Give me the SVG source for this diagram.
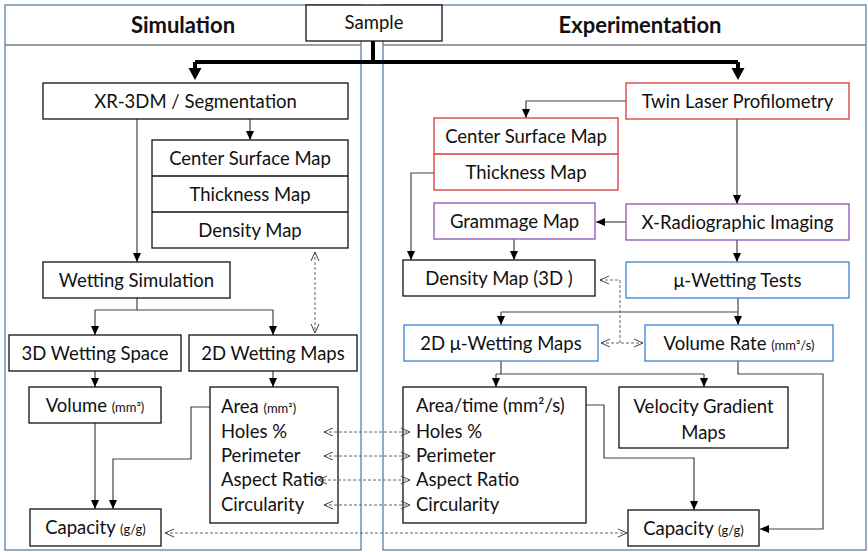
<svg xmlns="http://www.w3.org/2000/svg" width="868" height="552" viewBox="0 0 868 552">
<defs>
<style>
text{font-family:Lato,"Open Sans","Liberation Sans",sans-serif;font-size:18.5px;fill:#111;}
.c{text-anchor:middle;}
.h{font-weight:bold;font-size:22px;}
.s{font-size:13px;}
.box{fill:#fff;stroke:#111;stroke-width:1.3;}
.red{fill:#fff;stroke:#d9393b;stroke-width:1.3;}
.pur{fill:#fff;stroke:#8855bb;stroke-width:1.3;}
.blu{fill:#fff;stroke:#3a84d0;stroke-width:1.3;}
.panel{fill:#fff;stroke:#5b7fae;stroke-width:1.3;}
.hl{stroke:#7a7f86;stroke-width:1.3;fill:none;}
.ln{fill:none;stroke:#444;stroke-width:1.2;}
.ar{fill:none;stroke:#444;stroke-width:1.2;marker-end:url(#a);}
.th{fill:none;stroke:#000;stroke-width:4;}
.tha{fill:none;stroke:#000;stroke-width:4;marker-end:url(#ta);}
.ds{fill:none;stroke:#666;stroke-width:1;stroke-dasharray:3,2;marker-start:url(#o);marker-end:url(#o);}
.dse{fill:none;stroke:#666;stroke-width:1;stroke-dasharray:3,2;marker-end:url(#o);}
</style>
<marker id="a" markerWidth="10" markerHeight="10" refX="9" refY="5" orient="auto" markerUnits="userSpaceOnUse">
<path d="M0,1 L9,5 L0,9 Z" fill="#000"/>
</marker>
<marker id="ta" markerWidth="14" markerHeight="14" refX="3" refY="7" orient="auto" markerUnits="userSpaceOnUse">
<path d="M0,0.5 L12,7 L0,13.5 Z" fill="#000"/>
</marker>
<marker id="o" markerWidth="10" markerHeight="10" refX="9" refY="5" orient="auto-start-reverse" markerUnits="userSpaceOnUse">
<path d="M0,1 L9,5 L0,9" fill="none" stroke="#444" stroke-width="1"/>
</marker>
</defs>
<rect width="868" height="552" fill="#fff"/>
<g id="panels">
<rect class="panel" x="5" y="5" width="356" height="545"/>
<rect class="panel" x="383" y="5" width="483" height="545"/>
<line class="hl" x1="5" y1="45" x2="361" y2="45"/>
<line class="hl" x1="383" y1="45" x2="866" y2="45"/>
<text class="c h" x="183" y="33">Simulation</text>
<text class="c h" x="640" y="33">Experimentation</text>
</g>
<g id="connectors">
<path class="th" d="M373,41 V62"/>
<path class="th" d="M195,62 H738"/>
<path class="tha" d="M195,62 V71"/>
<path class="tha" d="M738,62 V71"/>
<path class="ar" d="M137,119 V262"/>
<path class="ar" d="M250,119 V140"/>
<path class="ln" d="M137,298 V310 M95,310 H273"/>
<path class="ar" d="M95,310 V335"/>
<path class="ar" d="M273,310 V335"/>
<path class="ar" d="M95,371 V387"/>
<path class="ar" d="M273,371 V387"/>
<path class="ar" d="M95,423 V509"/>
<path class="ar" d="M218,407 H191 V459 H113 V509"/>
<path class="ar" d="M626,101 H526 V118"/>
<path class="ar" d="M737,119 V204"/>
<path class="ar" d="M626,222 H596"/>
<path class="ar" d="M737,240 V262"/>
<path class="ar" d="M514,239 V260"/>
<path class="ar" d="M434,173 H411 V260"/>
<path class="ln" d="M738,298 V312 M501,312 H738"/>
<path class="ar" d="M501,312 V325"/>
<path class="ar" d="M738,312 V325"/>
<path class="ln" d="M501,361 V374 M496,374 H704"/>
<path class="ar" d="M496,374 V387"/>
<path class="ar" d="M704,374 V387"/>
<path class="ar" d="M738,361 V374 H823 V529 H760"/>
<path class="ar" d="M574,405 H604 V458 H694 V510"/>
</g>
<g id="sample">
<rect class="box" x="306" y="5" width="136" height="36"/>
<text class="c" x="374" y="29">Sample</text>
</g>
<g id="xr3dm">
<rect class="box" x="43" y="83" width="305" height="36"/>
<text class="c" x="195.5" y="107.5">XR-3DM / Segmentation</text>
</g>
<g id="sim-maps">
<rect class="box" x="152" y="140" width="196" height="108"/>
<line class="box" x1="152" y1="176" x2="348" y2="176"/>
<line class="box" x1="152" y1="212" x2="348" y2="212"/>
<text class="c" x="250" y="164.5">Center Surface Map</text>
<text class="c" x="250" y="200.5">Thickness Map</text>
<text class="c" x="250" y="236.5">Density Map</text>
</g>
<g id="wetting-sim">
<rect class="box" x="43" y="262" width="187" height="36"/>
<text class="c" x="136.5" y="286.5">Wetting Simulation</text>
</g>
<g id="wet-space">
<rect class="box" x="9" y="335" width="172" height="36"/>
<text class="c" x="95" y="359.5">3D Wetting Space</text>
</g>
<g id="wet-maps">
<rect class="box" x="189" y="335" width="168" height="36"/>
<text class="c" x="273" y="359.5">2D Wetting Maps</text>
</g>
<g id="volume">
<rect class="box" x="29" y="387" width="132" height="36"/>
<text class="c" x="95" y="411.5">Volume <tspan class="s">(mm³)</tspan></text>
</g>
<g id="sim-metrics">
<rect class="box" x="210" y="387" width="128" height="136"/>
<text x="221" y="413">Area <tspan class="s">(mm²)</tspan></text>
<text x="221" y="438">Holes %</text>
<text x="221" y="462">Perimeter</text>
<text x="221" y="486">Aspect Ratio</text>
<text x="221" y="511">Circularity</text>
</g>
<g id="capacity-sim">
<rect class="box" x="30" y="509" width="131" height="37"/>
<text class="c" x="95.5" y="534">Capacity <tspan class="s">(g/g)</tspan></text>
</g>
<g id="twin-laser">
<rect class="red" x="626" y="83" width="223" height="36"/>
<text class="c" x="737.5" y="107.5">Twin Laser Profilometry</text>
</g>
<g id="exp-maps">
<rect class="red" x="434" y="118" width="184" height="72"/>
<line class="red" x1="434" y1="154" x2="618" y2="154"/>
<text class="c" x="526" y="142.5">Center Surface Map</text>
<text class="c" x="526" y="178.5">Thickness Map</text>
</g>
<g id="grammage">
<rect class="pur" x="434" y="203" width="161" height="36"/>
<text class="c" x="514.5" y="227.5">Grammage Map</text>
</g>
<g id="xri">
<rect class="pur" x="626" y="204" width="223" height="36"/>
<text class="c" x="737.5" y="228.5">X-Radiographic Imaging</text>
</g>
<g id="density3d">
<rect class="box" x="403" y="260" width="192" height="36"/>
<text class="c" x="499" y="284.5">Density Map (3D )</text>
</g>
<g id="mu-tests">
<rect class="blu" x="626" y="262" width="223" height="36"/>
<text class="c" x="737.5" y="286.5">μ-Wetting Tests</text>
</g>
<g id="mu-maps">
<rect class="blu" x="404" y="325" width="194" height="36"/>
<text class="c" x="501" y="349.5">2D μ-Wetting Maps</text>
</g>
<g id="volume-rate">
<rect class="blu" x="645" y="325" width="188" height="36"/>
<text class="c" x="739" y="349.5">Volume Rate <tspan class="s">(mm³/s)</tspan></text>
</g>
<g id="exp-metrics">
<rect class="box" x="403" y="387" width="183" height="136"/>
<text x="416" y="411.5">Area/time (mm²/s)</text>
<text x="416" y="438">Holes %</text>
<text x="416" y="462">Perimeter</text>
<text x="416" y="486">Aspect Ratio</text>
<text x="416" y="511">Circularity</text>
</g>
<g id="velocity">
<rect class="box" x="619" y="387" width="169" height="61"/>
<text class="c" x="703.5" y="413">Velocity Gradient</text>
<text class="c" x="703.5" y="438.5">Maps</text>
</g>
<g id="capacity-exp">
<rect class="box" x="628" y="510" width="131" height="36"/>
<text class="c" x="693.5" y="534.5">Capacity <tspan class="s">(g/g)</tspan></text>
</g>
<g id="dashed-connectors">
<path class="ds" d="M315,252 V333"/>
<path class="ds" d="M324,432 H410"/>
<path class="ds" d="M324,456 H410"/>
<path class="ds" d="M318,480 H410"/>
<path class="ds" d="M324,505 H410"/>
<path class="ds" d="M165,533 H627"/>
<path class="dse" d="M620,343 V280 H600"/>
<path class="ds" d="M601,343 H643"/>
</g>
</svg>
